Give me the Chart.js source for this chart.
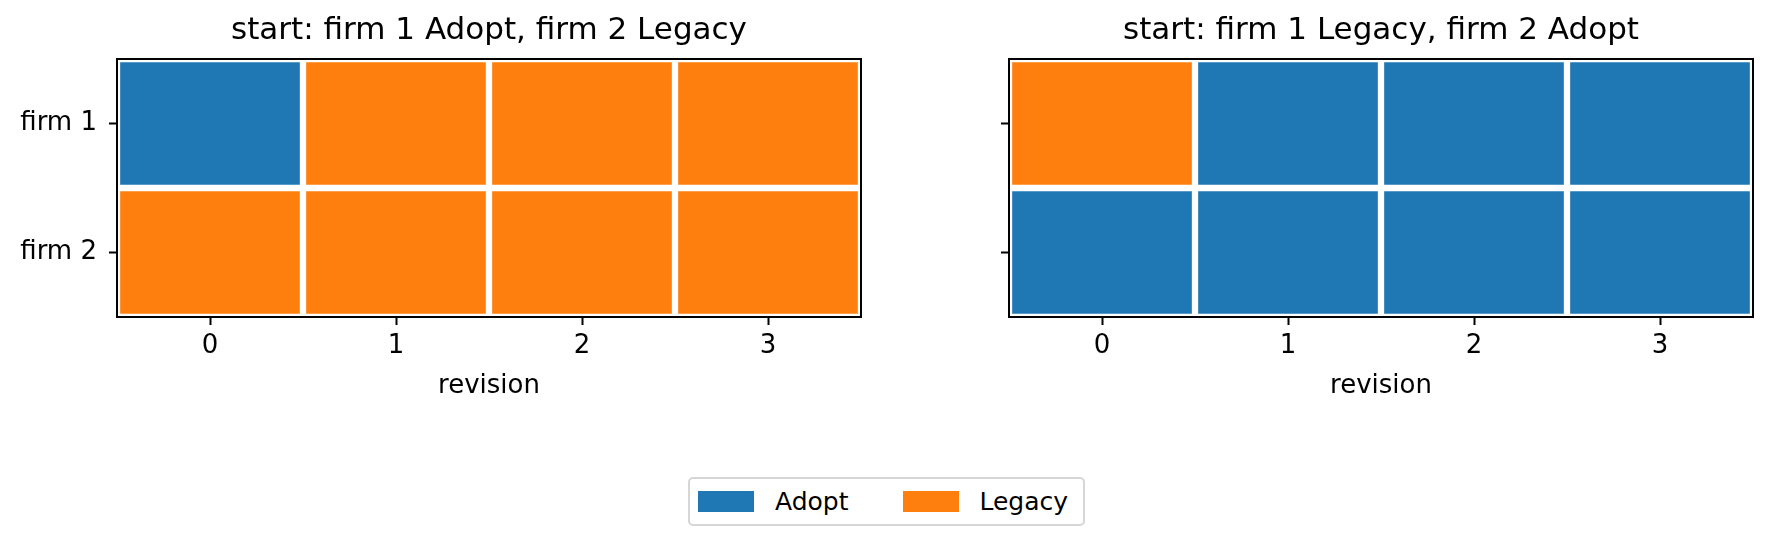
<!DOCTYPE html>
<html>
<head>
<meta charset="utf-8">
<script src="https://cdn.jsdelivr.net/npm/chart.js@4.4.1/dist/chart.umd.min.js"></script>
<style>
  body { margin: 0; background: #fff; }
  #wrap { position: relative; width: 1772px; height: 538px; background: #fff; font-family: 'DejaVu Sans', sans-serif; }
  #leftChart { position: absolute; left: 0; top: 0; }
  #rightChart { position: absolute; left: 886px; top: 0; }
  #legend {
    position: absolute; left: 688px; top: 477px; width: 393px; height: 45px;
    border: 2px solid #d6d6d6; border-radius: 5px;
    display: flex; align-items: center; font-size: 25px; color: #000;
  }
  .swatch { width: 56px; height: 21px; flex: none; }
  .lab { flex: none; }
</style>
</head>
<body>
<div id="wrap">
  <canvas id="leftChart" width="886" height="420"></canvas>
  <canvas id="rightChart" width="886" height="420"></canvas>
  <div id="legend"></div>
</div>
<script>
// data
var revisions = [0, 1, 2, 3];
var firms = ['firm 1', 'firm 2'];
var states = ['Adopt', 'Legacy'];
var stateColors = ['#1f77b4', '#ff7f0e'];

var leftTitle = 'start: firm 1 Adopt, firm 2 Legacy';
var leftFirm1 = ['Adopt', 'Legacy', 'Legacy', 'Legacy'];
var leftFirm2 = ['Legacy', 'Legacy', 'Legacy', 'Legacy'];

var rightTitle = 'start: firm 1 Legacy, firm 2 Adopt';
var rightFirm1 = ['Legacy', 'Adopt', 'Adopt', 'Adopt'];
var rightFirm2 = ['Adopt', 'Adopt', 'Adopt', 'Adopt'];

Chart.defaults.font.family = "'DejaVu Sans', sans-serif";
Chart.defaults.color = '#000';

// frame around the plot area
var framePlugin = {
    id: 'frame',
    afterDatasetsDraw: function(chart) {
        var a = chart.chartArea;
        var ctx = chart.ctx;
        ctx.save();
        ctx.strokeStyle = '#000';
        ctx.lineWidth = 2;
        ctx.strokeRect(a.left, a.top, a.right - a.left, a.bottom - a.top);
        ctx.restore();
    }
};

function buildDatasets(rows) {
    return states.map(function(st, si) {
        var cells = [];
        rows.forEach(function(row, fi) {
            row.forEach(function(v, ri) {
                if (v === st) {
                    cells.push({ x: [revisions[ri] - 0.5, revisions[ri] + 0.5], y: firms[fi] });
                }
            });
        });
        return {
            label: st,
            data: cells,
            backgroundColor: stateColors[si],
            borderColor: '#fff',
            borderWidth: 3.5,
            borderSkipped: false,
            grouped: false,
            barPercentage: 1,
            categoryPercentage: 1
        };
    });
}

function makeChart(id, title, rows, leftW, rightPad, showY) {
    return new Chart(document.getElementById(id).getContext('2d'), {
        type: 'bar',
        data: { labels: firms, datasets: buildDatasets(rows) },
        options: {
            responsive: false,
            animation: false,
            indexAxis: 'y',
            layout: { padding: { left: 0, right: rightPad, top: 0, bottom: 0 } },
            plugins: {
                legend: { display: false },
                tooltip: { enabled: false },
                title: {
                    display: true,
                    text: title,
                    fullSize: false,
                    color: '#000',
                    font: { size: 31, weight: 'normal' },
                    padding: { top: 12, bottom: 9.8 }
                }
            },
            scales: {
                x: {
                    type: 'linear',
                    min: -0.5,
                    max: 3.5,
                    afterBuildTicks: function(scale) {
                        scale.ticks = revisions.map(function(v) { return { value: v }; });
                    },
                    afterFit: function(scale) { scale.height = 103; },
                    grid: { drawOnChartArea: false, drawTicks: true, tickLength: 8, tickColor: '#000', tickWidth: 2 },
                    border: { display: false },
                    ticks: { font: { size: 26 }, padding: 6, maxRotation: 0 },
                    title: { display: true, text: 'revision', font: { size: 26 }, padding: { top: 0, bottom: 18 } }
                },
                y: {
                    type: 'category',
                    offset: true,
                    afterFit: function(scale) { scale.width = leftW; },
                    grid: { offset: false, drawOnChartArea: false, drawTicks: true, tickLength: 8, tickColor: '#000', tickWidth: 2 },
                    border: { display: false },
                    ticks: { display: showY, font: { size: 26 }, padding: 12 }
                }
            }
        },
        plugins: [framePlugin]
    });
}

makeChart('leftChart', leftTitle, [leftFirm1, leftFirm2], 117, 25, true);
makeChart('rightChart', rightTitle, [rightFirm1, rightFirm2], 123, 19, false);

// legend
var legend = document.getElementById('legend');
var gaps = [8, 54];
states.forEach(function(st, i) {
    var sw = document.createElement('span');
    sw.className = 'swatch';
    sw.style.background = stateColors[i];
    sw.style.marginLeft = gaps[i] + 'px';
    var lb = document.createElement('span');
    lb.className = 'lab';
    lb.textContent = st;
    lb.style.marginLeft = '21px';
    legend.appendChild(sw);
    legend.appendChild(lb);
});
</script>
</body>
</html>
